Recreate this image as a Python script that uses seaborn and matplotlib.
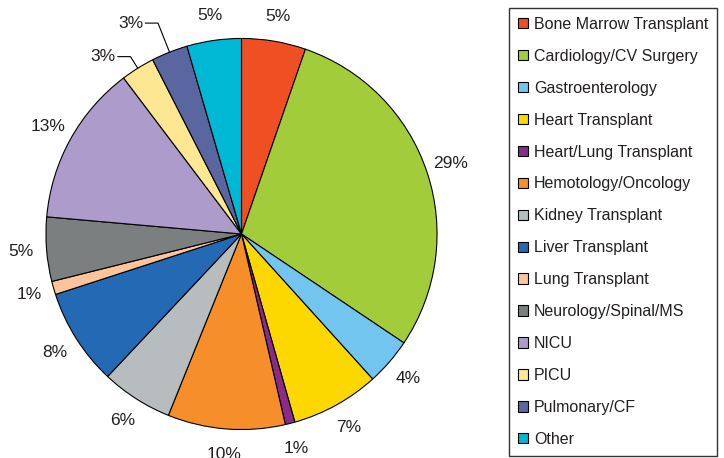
import numpy as np
import matplotlib
matplotlib.use("Agg")
import matplotlib.pyplot as plt
import seaborn as sns

# --- Data ---
services = ['Bone Marrow Transplant', 'Cardiology/CV Surgery', 'Gastroenterology',
            'Heart Transplant', 'Heart/Lung Transplant', 'Hemotology/Oncology',
            'Kidney Transplant', 'Liver Transplant', 'Lung Transplant',
            'Neurology/Spinal/MS', 'NICU', 'PICU', 'Pulmonary/CF', 'Other']
shares = [5.3, 29.1, 3.9, 7.3, 0.8, 9.7, 5.9, 8.0, 1.1, 5.3, 13.3, 2.8, 3.0, 4.5]
pct_labels = ['5%', '29%', '4%', '7%', '1%', '10%', '6%', '8%', '1%', '5%',
              '13%', '3%', '3%', '5%']
colors = ['#F04E23', '#A3CC3A', '#72C5EF', '#FDD800', '#8A2A8A', '#F68E2A',
          '#B7BCBE', '#2369B4', '#FDC49B', '#7B7F80', '#AC9BCB', '#FEE793',
          '#5A66A0', '#00B8D4']
# slices whose labels sit on a leader line, with the elbow radius
leader_slices = {11: 1.07, 12: 1.16}

# --- Style ---
sns.set_theme(style='white')
plt.rcParams['font.family'] = ['Liberation Sans', 'DejaVu Sans']
plt.rcParams['text.color'] = '#231f20'
palette = sns.color_palette(colors)

# --- Plotting ---
fig = plt.figure(figsize=(7.24, 4.58), dpi=100)
ax = fig.add_axes([44 / 724, 26.5 / 458, 395 / 724, 395 / 458])

wedges, texts = ax.pie(shares, labels=pct_labels, colors=palette,
                       startangle=90, counterclock=False, labeldistance=1.13,
                       wedgeprops=dict(edgecolor='black', linewidth=0.8),
                       textprops=dict(fontsize=12.5))
ax.set_xlim(-1.01, 1.01)
ax.set_ylim(-1.01, 1.01)

for t in texts:
    t.set_ha('center')
    t.set_va('center')

# leader lines for the two small slices at the top left
for i, r_elbow in leader_slices.items():
    mid = np.deg2rad((wedges[i].theta1 + wedges[i].theta2) / 2)
    cx, cy = np.cos(mid), np.sin(mid)
    x_end = cx * r_elbow - 0.065
    ax.plot([cx, cx * r_elbow, x_end], [cy, cy * r_elbow, cy * r_elbow],
            color='black', lw=0.8, clip_on=False)
    texts[i].set_position((x_end - 0.01, cy * r_elbow))
    texts[i].set_ha('right')

# --- Legend ---
leg = ax.legend(wedges, services, loc='upper left',
                bbox_to_anchor=(509 / 724, 1 - 8 / 458),
                bbox_transform=fig.transFigure, frameon=True, fancybox=False,
                edgecolor='black', fontsize=11.5, labelspacing=1.06,
                handlelength=0.62, handleheight=0.62, handletextpad=0.4,
                borderpad=0.55, borderaxespad=0)
leg.get_frame().set_linewidth(1.0)

fig.savefig('out.png', dpi=100)
